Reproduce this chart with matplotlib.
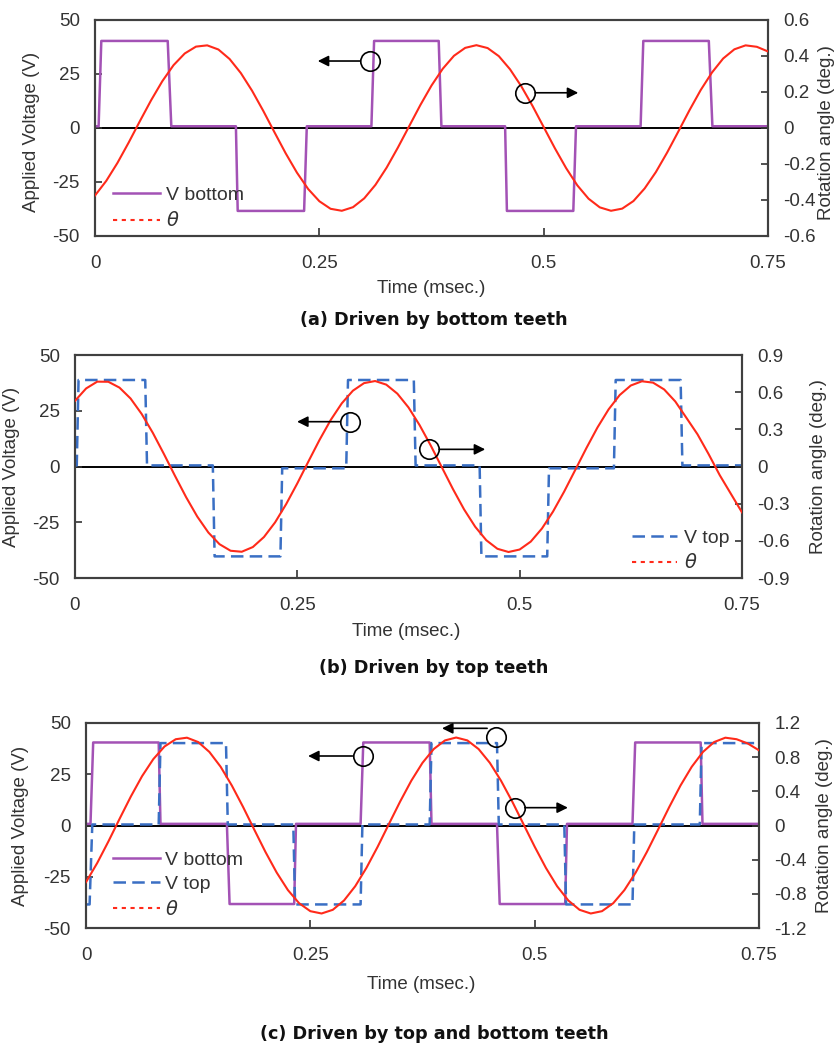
import numpy as np
import matplotlib
matplotlib.use('Agg')
import matplotlib.pyplot as plt
from matplotlib.lines import Line2D

plt.rcParams['font.family'] = ['Liberation Sans', 'DejaVu Sans']
plt.rcParams['axes.unicode_minus'] = False

# time grid for the rotation angle traces (msec.)
t_theta = np.linspace(0, 0.75, 61)

# (a) driven by bottom teeth
vb_a_t = [0, 0.004, 0.007, 0.081, 0.085, 0.157, 0.159, 0.233, 0.236, 0.308, 0.311,
          0.383, 0.386, 0.457, 0.459, 0.533, 0.536, 0.608, 0.611, 0.684, 0.688, 0.75]
vb_a_v = [0.8, 0.8, 40.3, 40.3, 0.8, 0.8, -38.4, -38.4, 0.8, 0.8, 40.3,
          40.3, 0.8, 0.8, -38.4, -38.4, 0.8, 0.8, 40.3, 40.3, 0.8, 0.8]
theta_a = [-0.375, -0.294, -0.194, -0.081, 0.038, 0.154, 0.260, 0.349, 0.414, 0.452,
           0.459, 0.436, 0.383, 0.305, 0.207, 0.095, -0.024, -0.141, -0.248, -0.339,
           -0.407, -0.449, -0.460, -0.440, -0.391, -0.316, -0.220, -0.109, 0.009, 0.127,
           0.236, 0.329, 0.401, 0.445, 0.460, 0.444, 0.399, 0.326, 0.232, 0.123,
           0.005, -0.113, -0.223, -0.319, -0.393, -0.441, -0.460, -0.448, -0.406, -0.336,
           -0.245, -0.137, -0.020, 0.099, 0.211, 0.308, 0.386, 0.437, 0.459, 0.451,
           0.425]

# (b) driven by top teeth
vt_b_t = [0, 0.002, 0.004, 0.079, 0.081, 0.155, 0.157, 0.231, 0.233, 0.305, 0.307,
          0.381, 0.383, 0.455, 0.457, 0.531, 0.533, 0.606, 0.608, 0.681, 0.683, 0.75]
vt_b_v = [0.5, 0.5, 38.8, 38.8, 0.5, 0.5, -40.3, -40.3, -0.8, -0.8, 38.8,
          38.8, 0.5, 0.5, -40.3, -40.3, -0.8, -0.8, 38.8, 38.8, 0.5, 0.5]
theta_b = [0.530, 0.630, 0.685, 0.684, 0.637, 0.549, 0.424, 0.272, 0.101, -0.076,
           -0.248, -0.404, -0.533, -0.627, -0.680, -0.688, -0.650, -0.569, -0.451, -0.303,
           -0.136, 0.041, 0.215, 0.375, 0.510, 0.612, 0.673, 0.690, 0.661, 0.588,
           0.477, 0.334, 0.170, -0.006, -0.182, -0.346, -0.486, -0.595, -0.664, -0.690,
           -0.670, -0.606, -0.501, -0.364, -0.203, -0.028, 0.148, 0.315, 0.461, 0.577,
           0.654, 0.688, 0.677, 0.622, 0.525, 0.393, 0.260, 0.100, -0.070, -0.220,
           -0.370]

# (c) driven by top and bottom teeth
vb_c_t = [0, 0.005, 0.008, 0.081, 0.083, 0.157, 0.160, 0.232, 0.234, 0.306, 0.309,
          0.383, 0.385, 0.458, 0.461, 0.534, 0.536, 0.609, 0.612, 0.685, 0.687, 0.75]
vb_c_v = [0.8, 0.8, 40.5, 40.5, 0.8, 0.8, -38.3, -38.3, 0.8, 0.8, 40.5,
          40.5, 0.8, 0.8, -38.3, -38.3, 0.8, 0.8, 40.5, 40.5, 0.8, 0.8]
vt_c_t = [0, 0.004, 0.007, 0.081, 0.083, 0.156, 0.158, 0.231, 0.233, 0.306, 0.308,
          0.383, 0.385, 0.458, 0.460, 0.533, 0.535, 0.609, 0.611, 0.684, 0.686, 0.75]
vt_c_v = [-38.5, -38.5, 0.5, 0.5, 40.2, 40.2, 0.5, 0.5, -38.5, -38.5, 0.5,
          0.5, 40.2, 40.2, 0.5, 0.5, -38.5, -38.5, 0.5, 0.5, 40.2, 40.2]
theta_c = [-0.663, -0.439, -0.186, 0.080, 0.340, 0.578, 0.777, 0.925, 1.010, 1.028,
           0.977, 0.861, 0.688, 0.468, 0.218, -0.048, -0.310, -0.551, -0.756, -0.910,
           -1.003, -1.030, -0.987, -0.878, -0.711, -0.496, -0.249, 0.016, 0.279, 0.524,
           0.734, 0.895, 0.996, 1.030, 0.996, 0.895, 0.734, 0.524, 0.280, 0.016,
           -0.248, -0.496, -0.711, -0.878, -0.987, -1.030, -1.003, -0.910, -0.756, -0.552,
           -0.310, -0.048, 0.217, 0.468, 0.687, 0.861, 0.977, 1.028, 1.010, 0.960,
           0.880]

x_ticks = [0, 0.25, 0.5, 0.75]
x_labels = ['0', '0.25', '0.5', '0.75']
v_ticks = [-50, -25, 0, 25, 50]

PURPLE = '#a352b5'
BLUE = '#3a6fc4'
RED = '#ff2a1a'
TXT = '#333333'
FS = 13.5

fig = plt.figure(figsize=(8.35, 10.46), dpi=100)


def make_panel(rect, theta_lim, theta_ticks, theta_labels):
    ax = fig.add_axes(rect)
    ax.set_xlim(0, 0.75)
    ax.set_ylim(-50, 50)
    ax.set_xticks(x_ticks)
    ax.set_xticklabels(x_labels)
    ax.set_yticks(v_ticks)
    ax.axhline(0, color='black', lw=1.4, zorder=1)
    ax.tick_params(axis='x', direction='in', length=6, pad=14, labelsize=FS,
                   colors=TXT, width=1.2)
    ax.tick_params(axis='y', direction='in', length=5, pad=11, labelsize=FS,
                   colors=TXT, width=1.2)
    for s in ax.spines.values():
        s.set_color('#404040')
        s.set_linewidth(1.5)
    ax2 = ax.twinx()
    ax2.set_ylim(*theta_lim)
    ax2.set_yticks(theta_ticks)
    ax2.set_yticklabels(theta_labels)
    ax2.tick_params(axis='y', direction='in', length=5, pad=11, labelsize=FS,
                    colors=TXT, width=1.2)
    for s in ax2.spines.values():
        s.set_color('#404040')
        s.set_linewidth(1.5)
    ax.set_ylabel('Applied Voltage (V)', fontsize=FS, color=TXT)
    ax2.set_ylabel('Rotation angle (deg.)', fontsize=FS, color=TXT, rotation=90)
    ax.set_xlabel('Time (msec.)', fontsize=FS, color=TXT)
    return ax, ax2


def marker(ax, x, y, x_head, y_arrow=None):
    if y_arrow is None:
        y_arrow = y
        x_tail = x - 0.015 if x_head < x else x + 0.015
    else:
        x_tail = x - 0.013
    ax.plot([x], [y], 'o', ms=14, mfc='none', mec='black', mew=1.2,
            transform=ax.transAxes, zorder=10, clip_on=False)
    ax.annotate('', xy=(x_head, y_arrow), xytext=(x_tail, y_arrow),
                xycoords='axes fraction', textcoords='axes fraction',
                arrowprops=dict(arrowstyle='-|>', color='black', lw=1.2,
                                mutation_scale=16, shrinkA=0, shrinkB=0),
                zorder=10)


def caption(x, y, s):
    fig.text(x, y, s, ha='center', va='center', fontsize=12.7, fontweight='bold',
             family='DejaVu Sans', color='#111111')


theta_handle = Line2D([], [], color=RED, lw=1.5, dashes=(2, 2.2))
theta_label = r'$\theta$'

# ---- (a)
ax, ax2 = make_panel([0.1138, 0.7744, 0.806, 0.2065], (-0.6, 0.6),
                     [-0.6, -0.4, -0.2, 0, 0.2, 0.4, 0.6],
                     ['-0.6', '-0.4', '-0.2', '0', '0.2', '0.4', '0.6'])
ax.plot(vb_a_t, vb_a_v, color=PURPLE, lw=1.8, zorder=2)
ax2.plot(t_theta, theta_a, color=RED, lw=1.5, zorder=3)
ax.yaxis.set_label_coords(-0.082, 0.48)
ax2.yaxis.set_label_coords(1.074, 0.48)
ax.xaxis.set_label_coords(0.499, -0.204)
ax2.legend([Line2D([], [], color=PURPLE, lw=1.8), theta_handle],
           ['V bottom', theta_label], loc='upper left', bbox_to_anchor=(0.027, 0.231),
           frameon=False, fontsize=FS + 0.5, handlelength=2.4, handletextpad=0.3,
           labelspacing=0.4, borderpad=0, borderaxespad=0, labelcolor=TXT)
marker(ax2, 0.409, 0.810, 0.331)
marker(ax2, 0.639, 0.663, 0.718)
caption(0.519, 0.694, '(a) Driven by bottom teeth')

# ---- (b)
ax, ax2 = make_panel([0.0898, 0.4474, 0.7988, 0.2132], (-0.9, 0.9),
                     [-0.9, -0.6, -0.3, 0, 0.3, 0.6, 0.9],
                     ['-0.9', '-0.6', '-0.3', '0', '0.3', '0.6', '0.9'])
ax.plot(vt_b_t, vt_b_v, color=BLUE, lw=1.8, dashes=(5, 2.5), zorder=2)
ax2.plot(t_theta, theta_b, color=RED, lw=1.5, zorder=3)
ax.yaxis.set_label_coords(-0.083, 0.5)
ax2.yaxis.set_label_coords(1.102, 0.5)
ax.xaxis.set_label_coords(0.497, -0.202)
ax2.legend([Line2D([], [], color=BLUE, lw=1.8, dashes=(5, 2.5)), theta_handle],
           ['V top', theta_label], loc='upper left', bbox_to_anchor=(0.835, 0.22),
           frameon=False, fontsize=FS + 0.5, handlelength=2.3, handletextpad=0.4,
           labelspacing=0.35, borderpad=0, borderaxespad=0, labelcolor=TXT)
marker(ax2, 0.412, 0.701, 0.333)
marker(ax2, 0.531, 0.577, 0.615)
caption(0.519, 0.3614, '(b) Driven by top teeth')

# ---- (c)
ax, ax2 = make_panel([0.1030, 0.1128, 0.806, 0.196], (-1.2, 1.2),
                     [-1.2, -0.8, -0.4, 0, 0.4, 0.8, 1.2],
                     ['-1.2', '-0.8', '-0.4', '0', '0.4', '0.8', '1.2'])
ax.plot(vb_c_t, vb_c_v, color=PURPLE, lw=1.8, zorder=2)
ax.plot(vt_c_t, vt_c_v, color=BLUE, lw=1.8, dashes=(5, 2.5), zorder=2.5)
ax2.plot(t_theta, theta_c, color=RED, lw=1.5, zorder=3)
ax.yaxis.set_label_coords(-0.084, 0.5)
ax2.yaxis.set_label_coords(1.085, 0.5)
ax.xaxis.set_label_coords(0.4985, -0.234)
ax2.legend([Line2D([], [], color=PURPLE, lw=1.8),
            Line2D([], [], color=BLUE, lw=1.8, dashes=(5, 2.5)), theta_handle],
           ['V bottom', 'V top', theta_label], loc='upper left',
           bbox_to_anchor=(0.040, 0.376), frameon=False, fontsize=FS + 0.5,
           handlelength=2.4, handletextpad=0.3, labelspacing=0.35, borderpad=0,
           borderaxespad=0, labelcolor=TXT)
marker(ax2, 0.411, 0.839, 0.330)
marker(ax2, 0.609, 0.930, 0.529, y_arrow=0.974)
marker(ax2, 0.637, 0.587, 0.716)
caption(0.52, 0.0115, '(c) Driven by top and bottom teeth')

fig.savefig('out.png', dpi=100)
